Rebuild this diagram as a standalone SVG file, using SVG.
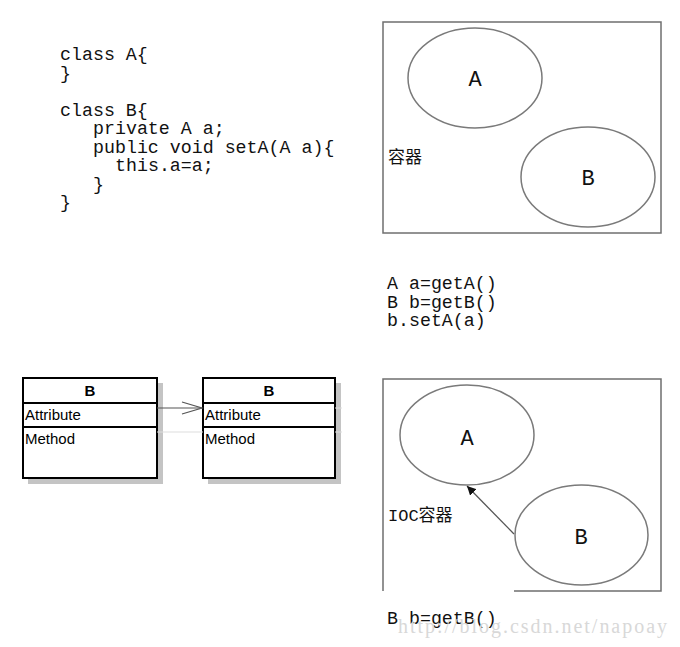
<svg xmlns="http://www.w3.org/2000/svg" width="680" height="647" viewBox="0 0 680 647">
  <defs>
    <style>
      .code { font-family: "Liberation Mono", "DejaVu Sans Mono", monospace; font-size: 18.3px; fill: #111; }
      .lbl { font-family: "Liberation Mono", "DejaVu Sans Mono", monospace; font-size: 22px; fill: #111; text-anchor: middle; }
      .cjk { font-family: "Liberation Mono", "Noto Sans CJK SC", monospace; font-size: 17px; fill: #111; }
      .box { fill: none; stroke: #6f6f6f; stroke-width: 1.5; }
      .ell { fill: #fff; stroke: #7a7a7a; stroke-width: 1.5; }
      .uml { fill: #fff; stroke: #000; stroke-width: 2; }
      .shadow { fill: #c4c4c4; }
      .umlt { font-family: "Liberation Sans", Arial, sans-serif; font-size: 15px; fill: #000; }
      .umlh { font-family: "Liberation Sans", Arial, sans-serif; font-size: 15px; font-weight: bold; fill: #000; text-anchor: middle; }
    </style>
    <marker id="tri" viewBox="0 0 10 10" refX="10" refY="5" markerWidth="9" markerHeight="9" markerUnits="userSpaceOnUse" orient="auto">
      <path d="M0,0 L10,5 L0,10 z" fill="#111"/>
    </marker>
  </defs>
  <rect width="680" height="647" fill="#fff"/>

  <g id="code">
    <text class="code" x="60" y="60">class A{</text>
    <text class="code" x="60" y="78.5">}</text>
    <text class="code" x="60" y="115.5">class B{</text>
    <text class="code" x="93" y="134" xml:space="preserve">private A a;</text>
    <text class="code" x="93" y="152.5" xml:space="preserve">public void setA(A a){</text>
    <text class="code" x="115" y="171">this.a=a;</text>
    <text class="code" x="93" y="189.5">}</text>
    <text class="code" x="60" y="208">}</text>
  </g>

  <g id="container-top">
    <rect class="box" x="383" y="22" width="278" height="211"/>
    <text class="cjk" x="388" y="163">容器</text>
  </g>
  <g id="node-top-A">
    <ellipse class="ell" cx="475" cy="78" rx="67" ry="50"/>
    <text class="lbl" x="475" y="86">A</text>
  </g>
  <g id="node-top-B">
    <ellipse class="ell" cx="588" cy="177" rx="67" ry="50"/>
    <text class="lbl" x="588" y="185">B</text>
  </g>

  <g id="calls">
    <text class="code" x="387" y="289">A a=getA()</text>
    <text class="code" x="387" y="307.5">B b=getB()</text>
    <text class="code" x="387" y="326">b.setA(a)</text>
  </g>

  <g id="uml-B1">
    <rect class="shadow" x="28" y="383" width="135" height="101"/>
    <rect class="uml" x="23" y="378" width="134" height="100"/>
    <line x1="23" y1="403" x2="157" y2="403" stroke="#000" stroke-width="2"/>
    <line x1="23" y1="427" x2="157" y2="427" stroke="#000" stroke-width="2"/>
    <text class="umlh" x="90" y="396">B</text>
    <text class="umlt" x="25" y="420">Attribute</text>
    <text class="umlt" x="25" y="444">Method</text>
  </g>
  <g id="uml-B2">
    <rect class="shadow" x="208" y="383" width="133" height="101"/>
    <rect class="uml" x="203" y="378" width="132" height="100"/>
    <line x1="203" y1="403" x2="335" y2="403" stroke="#000" stroke-width="2"/>
    <line x1="203" y1="427" x2="335" y2="427" stroke="#000" stroke-width="2"/>
    <text class="umlh" x="269" y="396">B</text>
    <text class="umlt" x="205" y="420">Attribute</text>
    <text class="umlt" x="205" y="444">Method</text>
  </g>

  <g id="container-bottom">
    <path class="box" d="M514,591 L661,591 L661,379 L383,379 L383,591"/>
    <text class="cjk" x="388" y="521">IOC容器</text>
  </g>
  <g id="node-bot-A">
    <ellipse class="ell" cx="467" cy="435" rx="67" ry="50"/>
    <text class="lbl" x="467" y="445">A</text>
  </g>
  <g id="node-bot-B">
    <ellipse class="ell" cx="581.5" cy="535" rx="66.5" ry="50"/>
    <text class="lbl" x="581" y="544">B</text>
  </g>

  <g id="connectors">
    <line x1="157" y1="408" x2="202" y2="408" stroke="#555" stroke-width="1.2"/>
    <polyline points="182,402 202,408 182,414" fill="none" stroke="#555" stroke-width="1.2"/>
    <line x1="157" y1="432" x2="203" y2="432" stroke="#ddd" stroke-width="1"/>
    <line x1="335" y1="408" x2="342" y2="408" stroke="#ddd" stroke-width="1"/>
    <line x1="335" y1="432" x2="342" y2="432" stroke="#ddd" stroke-width="1"/>
    <line x1="514" y1="534" x2="467" y2="486" stroke="#555" stroke-width="1.3" marker-end="url(#tri)"/>
  </g>

  <g id="footer">
    <text class="code" x="387" y="624">B b=getB()</text>
    <text x="398" y="633" font-family="Liberation Serif, serif" font-size="20" fill="#d8d8d8" textLength="269" lengthAdjust="spacing">http://blog.csdn.net/napoay</text>
  </g>
</svg>
